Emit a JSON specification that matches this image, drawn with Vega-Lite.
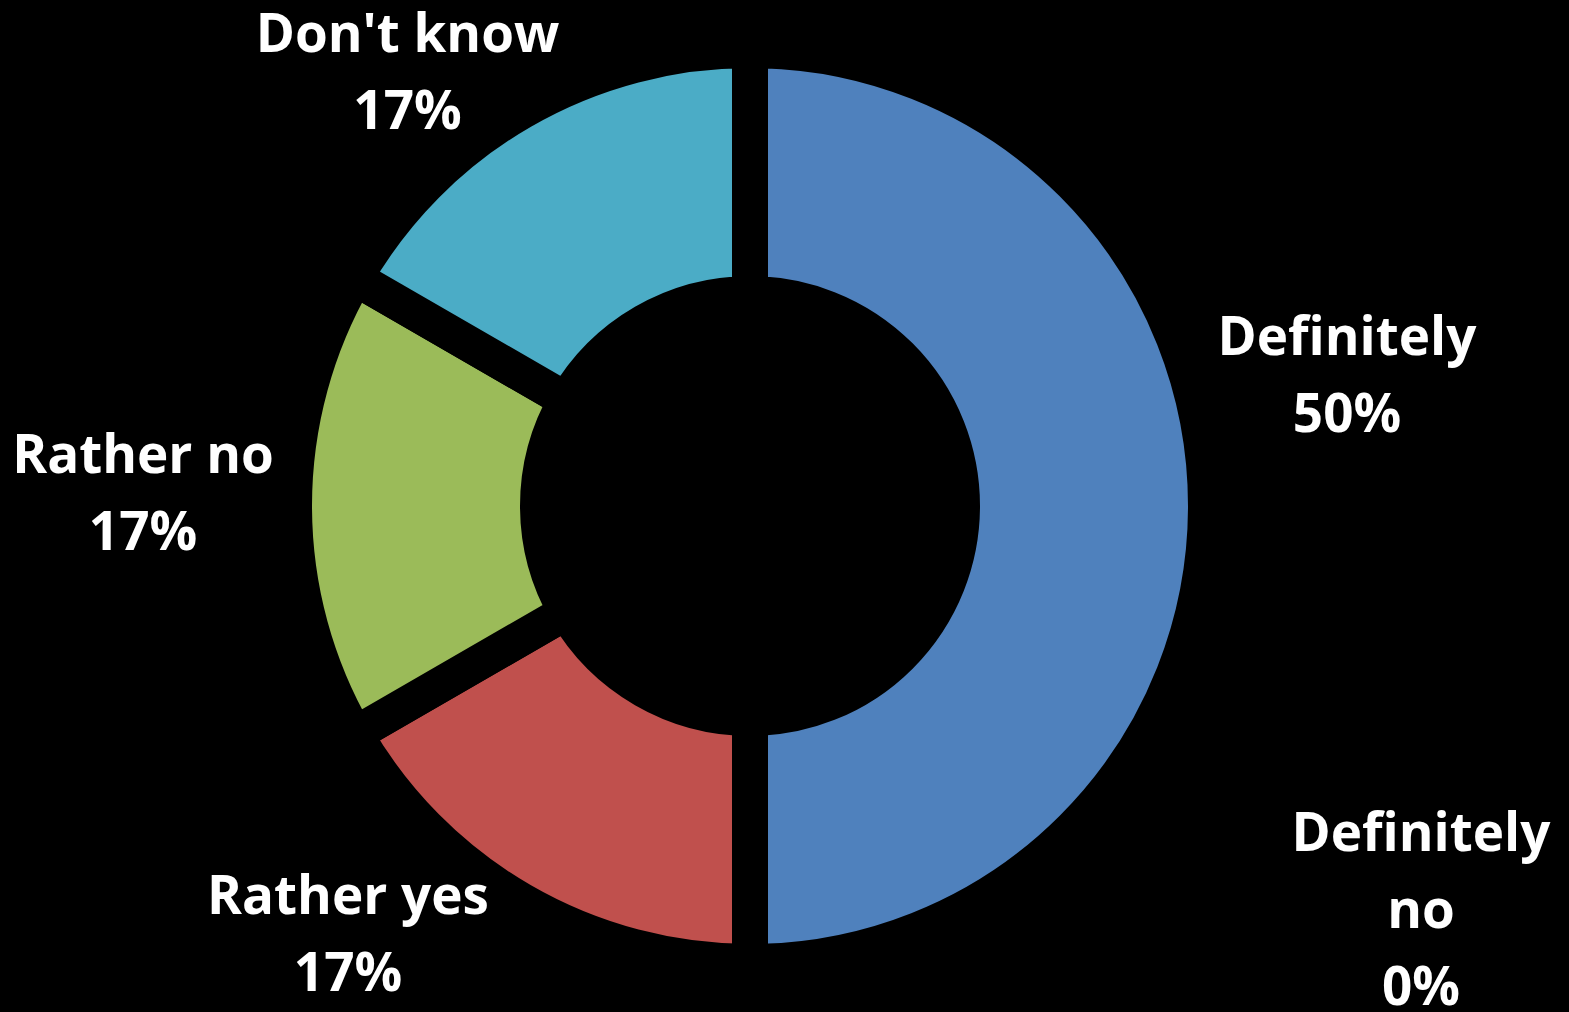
{
  "$schema": "https://vega.github.io/schema/vega-lite/v6.json",
  "width": 1500,
  "height": 1012,
  "autosize": {"type": "none"},
  "padding": {"left": 0, "top": 0, "right": 69, "bottom": 0},
  "background": "#000000",
  "config": {"view": {"stroke": null}},
  "data": {
    "values": [
      {"category": "Definitely", "count": 3, "rank": 1, "display": "Definitely"},
      {"category": "Definitely no", "count": 0, "rank": 2, "display": "Definitely\nno"},
      {"category": "Rather yes", "count": 1, "rank": 3, "display": "Rather yes"},
      {"category": "Rather no", "count": 1, "rank": 4, "display": "Rather no"},
      {"category": "Don't know", "count": 1, "rank": 5, "display": "Don't know"}
    ]
  },
  "transform": [
    {"joinaggregate": [{"op": "sum", "field": "count", "as": "total"}]},
    {"calculate": "datum.display + '\\n' + format(datum.count / datum.total, '.0%')", "as": "label"}
  ],
  "encoding": {
    "theta": {"field": "count", "type": "quantitative", "stack": true},
    "order": {"field": "rank", "type": "ordinal"}
  },
  "layer": [
    {
      "mark": {"type": "arc", "radius": 456, "radius2": 212, "stroke": "#000000", "strokeWidth": 36},
      "encoding": {
        "color": {
          "field": "category",
          "type": "nominal",
          "scale": {
            "domain": ["Definitely", "Definitely no", "Rather yes", "Rather no", "Don't know"],
            "range": ["#4F81BD", "#8064A2", "#C0504D", "#9BBB59", "#4BACC6"]
          },
          "legend": null
        }
      }
    },
    {
      "mark": {"type": "text", "radius": 597, "dy": -167, "font": "Open Sans", "fontWeight": "bold", "fontSize": 53, "color": "#FFFFFF", "lineBreak": "\n", "lineHeight": 77, "align": "center", "baseline": "middle"},
      "encoding": {"text": {"condition": {"test": "datum.rank === 1", "field": "label"}, "value": ""}}
    },
    {
      "mark": {"type": "text", "radius": 329, "dx": 671, "dy": 0, "font": "Open Sans", "fontWeight": "bold", "fontSize": 53, "color": "#FFFFFF", "lineBreak": "\n", "lineHeight": 77, "align": "center", "baseline": "middle"},
      "encoding": {"text": {"condition": {"test": "datum.rank === 2", "field": "label"}, "value": ""}}
    },
    {
      "mark": {"type": "text", "radius": 540, "dx": -132, "dy": -76, "font": "Open Sans", "fontWeight": "bold", "fontSize": 53, "color": "#FFFFFF", "lineBreak": "\n", "lineHeight": 77, "align": "center", "baseline": "middle"},
      "encoding": {"text": {"condition": {"test": "datum.rank === 3", "field": "label"}, "value": ""}}
    },
    {
      "mark": {"type": "text", "radius": 607, "dy": -49, "font": "Open Sans", "fontWeight": "bold", "fontSize": 53, "color": "#FFFFFF", "lineBreak": "\n", "lineHeight": 77, "align": "center", "baseline": "middle"},
      "encoding": {"text": {"condition": {"test": "datum.rank === 4", "field": "label"}, "value": ""}}
    },
    {
      "mark": {"type": "text", "radius": 579, "dx": -53, "dy": 31, "font": "Open Sans", "fontWeight": "bold", "fontSize": 53, "color": "#FFFFFF", "lineBreak": "\n", "lineHeight": 77, "align": "center", "baseline": "middle"},
      "encoding": {"text": {"condition": {"test": "datum.rank === 5", "field": "label"}, "value": ""}}
    }
  ]
}
